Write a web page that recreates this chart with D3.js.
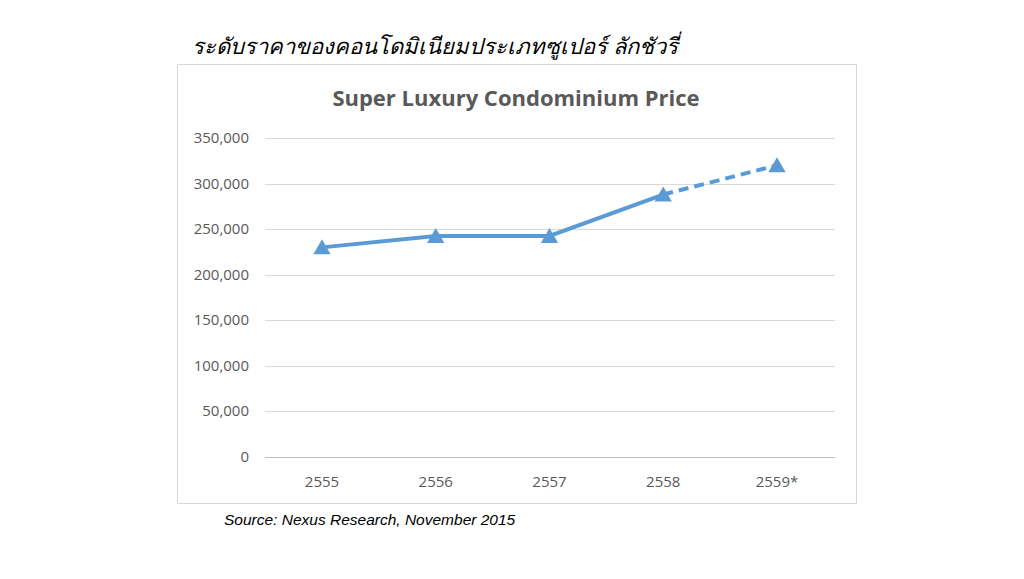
<!DOCTYPE html>
<html><head><meta charset="utf-8">
<script src="https://cdn.jsdelivr.net/npm/d3@7"></script>
<style>body{margin:0;background:#fff}</style>
</head><body>
<svg id="c" width="1024" height="579"></svg>
<script>
var years = ["2555", "2556", "2557", "2558", "2559*"];
var prices = [230000, 242500, 242500, 288000, 320000];
var yTicks = [0, 50000, 100000, 150000, 200000, 250000, 300000, 350000];

var svg = d3.select("#c");
svg.append("text").attr("x", 192).attr("y", 54)
    .attr("font-family", "Noto Sans, sans-serif").attr("font-size", 22).attr("font-style", "italic")
    .text("ระดับราคาของคอนโดมิเนียมประเภทซูเปอร์ ลักชัวรี่");

svg.append("rect").attr("x", 177.5).attr("y", 64.5).attr("width", 679).attr("height", 439)
    .attr("fill", "#fff").attr("stroke", "#d9d9d9");

svg.append("text").attr("x", 516).attr("y", 106).attr("text-anchor", "middle")
    .attr("font-family", "Open Sans, sans-serif").attr("font-size", 22).attr("font-weight", "bold")
    .attr("fill", "#595959").text("Super Luxury Condominium Price");

var x = d3.scalePoint().domain(years).range([322, 777]);
var y = d3.scaleLinear().domain([0, 350000]).range([457, 138]);
var fmt = d3.format(",");

svg.append("g").selectAll("line").data(yTicks).enter().append("line")
    .attr("x1", 265).attr("x2", 835)
    .attr("y1", d => Math.round(y(d)) + 0.5).attr("y2", d => Math.round(y(d)) + 0.5)
    .attr("stroke", d => d === 0 ? "#bfbfbf" : "#d9d9d9");

svg.append("g").selectAll("text").data(yTicks).enter().append("text")
    .attr("x", 249).attr("y", d => y(d) + 5).attr("text-anchor", "end")
    .attr("font-family", "Open Sans, sans-serif").attr("font-size", 15).attr("fill", "#595959")
    .text(d => fmt(d));

svg.append("g").selectAll("text").data(years).enter().append("text")
    .attr("x", d => x(d)).attr("y", 487).attr("text-anchor", "middle")
    .attr("font-family", "Open Sans, sans-serif").attr("font-size", 15).attr("fill", "#595959")
    .text(d => d);

var pts = years.map((d, i) => [x(d), y(prices[i])]);
var line = d3.line();
svg.append("path").attr("d", line(pts.slice(0, 4))).attr("fill", "none")
    .attr("stroke", "#5b9bd5").attr("stroke-width", 4);
svg.append("path").attr("d", line(pts.slice(3))).attr("fill", "none")
    .attr("stroke", "#5b9bd5").attr("stroke-width", 4).attr("stroke-dasharray", "10,6");

svg.append("g").selectAll("path").data(pts).enter().append("path")
    .attr("d", d3.symbol().type(d3.symbolTriangle).size(130))
    .attr("transform", d => "translate(" + d[0] + "," + (d[1] + 2) + ")")
    .attr("fill", "#5b9bd5");

svg.append("text").attr("x", 224).attr("y", 525)
    .attr("font-family", "Liberation Sans, Arial, sans-serif").attr("font-size", 15.5).attr("font-style", "italic")
    .text("Source: Nexus Research, November 2015");
</script>
</body></html>
